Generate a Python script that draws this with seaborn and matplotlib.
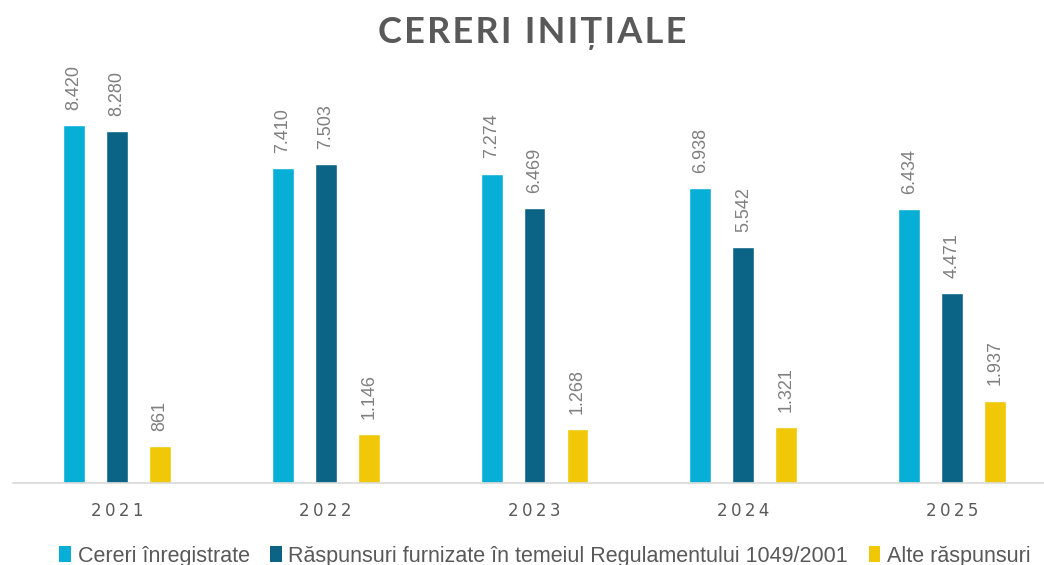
import matplotlib
matplotlib.use("Agg")
import matplotlib.pyplot as plt
import seaborn as sns
import pandas as pd
from matplotlib.patches import Patch

years = ["2021", "2022", "2023", "2024", "2025"]
series_names = ["Cereri înregistrate",
                "Răspunsuri furnizate în temeiul Regulamentului 1049/2001",
                "Alte răspunsuri"]
cereri = [8420, 7410, 7274, 6938, 6434]
raspunsuri = [8280, 7503, 6469, 5542, 4471]
alte = [861, 1146, 1268, 1321, 1937]
colors = ["#07AED5", "#0B6385", "#F0C808"]

rows = []
for name, vals in zip(series_names, [cereri, raspunsuri, alte]):
    for y, v in zip(years, vals):
        rows.append({"An": y, "Serie": name, "Valoare": v})
df = pd.DataFrame(rows)

sns.set_theme(style="white")

fig = plt.figure(figsize=(10.44, 5.65), dpi=100)
ax = fig.add_axes([0.012, 0.1451, 1.0, 0.7526])
sns.barplot(data=df, x="An", y="Valoare", hue="Serie", hue_order=series_names,
            palette=colors, width=0.617, gap=0.49, ax=ax, legend=False,
            saturation=1, errorbar=None)
ax.set_ylim(0, 10000)
ax.set_xlim(-0.5, 4.5)

for cont in ax.containers:
    labels = [f"{int(b.get_height()):,}".replace(",", ".") for b in cont]
    ax.bar_label(cont, labels=labels, rotation=90, padding=11, color="#7F7F7F",
                 fontsize=13, family="Liberation Sans")

for s in ["left", "top", "right"]:
    ax.spines[s].set_visible(False)
ax.spines["bottom"].set_color("#D9D9D9")
ax.spines["bottom"].set_linewidth(1.2)
ax.set_yticks([])
ax.set_xlabel("")
ax.set_ylabel("")
ax.set_xticks(range(len(years)))
ax.set_xticklabels(["\u2009".join(y) for y in years], fontsize=12,
                   color="#595959", family="DejaVu Sans")
ax.tick_params(axis="x", length=0, pad=14)

fig.text(0.51, 0.94, "\u200a".join("CERERI INI\u021aIALE"), ha="center", va="center",
         fontsize=26, fontweight="bold", color="#595959", family="Lato")

handles = [Patch(facecolor=c, edgecolor="none") for c in colors]
fig.legend(handles, series_names, loc="lower center", ncol=3,
           bbox_to_anchor=(0.522, -0.037), frameon=False,
           prop={"family": "Liberation Sans", "size": 15.5},
           labelcolor="#595959", handlelength=0.55, handleheight=0.75,
           handletextpad=0.3, columnspacing=0.95)

fig.savefig("out.png", dpi=100)
